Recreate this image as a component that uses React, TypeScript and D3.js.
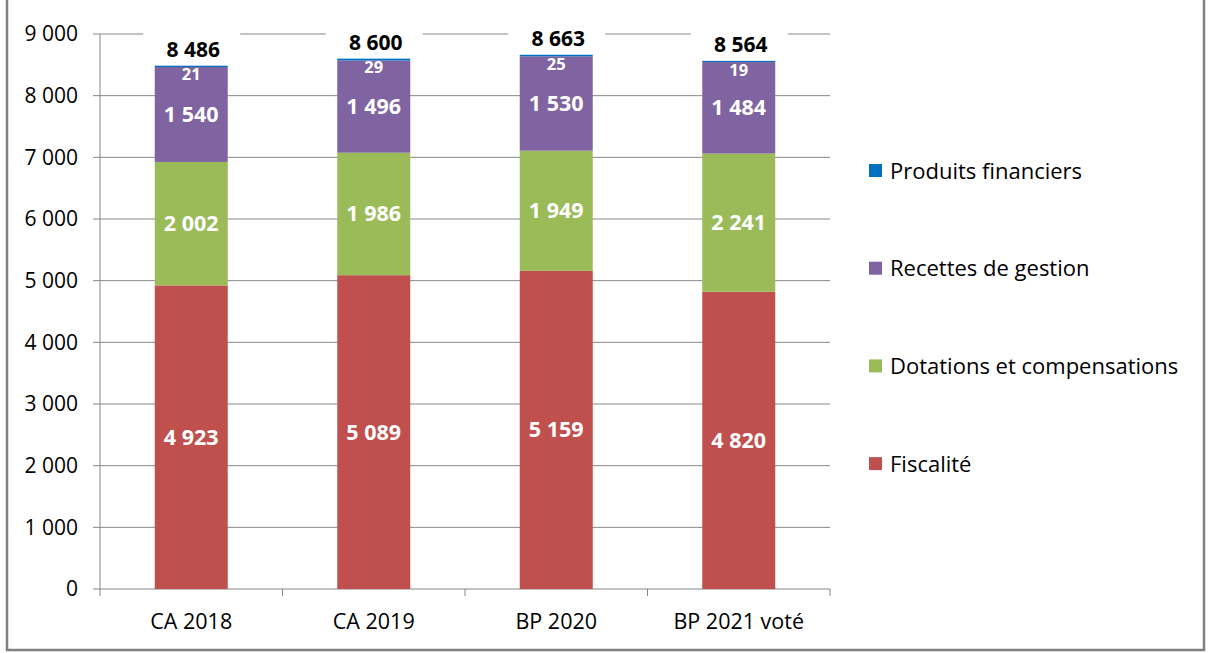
import React from "react";
import * as d3 from "d3";

const categories = ["CA 2018", "CA 2019", "BP 2020", "BP 2021 voté"];
const seriesNames = ["Fiscalité", "Dotations et compensations", "Recettes de gestion", "Produits financiers"];
const fiscalite = [4923, 5089, 5159, 4820];
const dotations = [2002, 1986, 1949, 2241];
const recettes = [1540, 1496, 1530, 1484];
const produits = [21, 29, 25, 19];
const totals = [8486, 8600, 8663, 8564];
const yTicks = [0, 1000, 2000, 3000, 4000, 5000, 6000, 7000, 8000, 9000];
const colors = ["#C0504D", "#9BBB59", "#8064A2", "#0070C0"];

const W = 1208;
const H = 653;
const FONT = "'Open Sans', sans-serif";

export default function App() {
  const x = d3.scaleBand<string>().domain(categories).range([100, 830]).paddingInner(0.6).paddingOuter(0.3);
  const band = d3.scaleBand<string>().domain(categories).range([100, 830]);
  const y = d3.scaleLinear().domain([0, 9000]).range([589, 34]);
  const fmt = (v: number) => d3.format(",")(v).replace(/,/g, " ");

  const rows = categories.map((c, i) => ({
    cat: c,
    fiscalite: fiscalite[i],
    dotations: dotations[i],
    recettes: recettes[i],
    produits: produits[i],
  }));
  const keys = ["fiscalite", "dotations", "recettes", "produits"];
  const stack = d3.stack<any>().keys(keys)(rows);

  return (
    <svg width={W} height={H} style={{ position: "fixed", left: 0, top: 0, background: "#fff" }}>
      <rect x={0} y={0} width={W} height={H} fill="#fff" />
      {/* gridlines */}
      {yTicks.map((t) => (
        <line key={"g" + t} x1={100} x2={830} y1={y(t)} y2={y(t)} stroke="#868686" strokeWidth={1} />
      ))}
      {/* y axis */}
      <line x1={100} x2={100} y1={y(9000)} y2={y(0)} stroke="#868686" strokeWidth={1} />
      {yTicks.map((t) => (
        <g key={"yt" + t}>
          <line x1={93} x2={100} y1={y(t)} y2={y(t)} stroke="#868686" />
          <text x={78} y={y(t)} dy="0.35em" textAnchor="end" fontFamily={FONT} fontSize={21} fill="#000">
            {fmt(t)}
          </text>
        </g>
      ))}
      {/* x axis ticks */}
      {[...categories.map((c) => band(c)!), 830].map((px, i) => (
        <line key={"xt" + i} x1={px} x2={px} y1={589} y2={596} stroke="#868686" />
      ))}
      {categories.map((c) => (
        <text key={"xl" + c} x={band(c)! + band.bandwidth() / 2} y={621} dy="0.35em" textAnchor="middle" fontFamily={FONT} fontSize={21.5} fill="#000">
          {c}
        </text>
      ))}
      {/* bars */}
      {stack.map((s, si) => (
        <g key={"s" + si} fill={colors[si]}>
          {s.map((d, i) => (
            <rect key={i} x={x(categories[i])} width={x.bandwidth()} y={y(d[1])} height={y(d[0]) - y(d[1])} />
          ))}
        </g>
      ))}
      {/* segment labels */}
      {stack.map((s, si) =>
        s.map((d, i) => {
          const cx = x(categories[i])! + x.bandwidth() / 2;
          const v = d[1] - d[0];
          if (si === 3) {
            return (
              <text key={"l" + si + i} x={cx} y={y(d[1]) + 9} dy="0.35em" textAnchor="middle" fontFamily={FONT} fontWeight="bold" fontSize={16.5} fill="#fff">
                {fmt(v)}
              </text>
            );
          }
          return (
            <text key={"l" + si + i} x={cx} y={(y(d[0]) + y(d[1])) / 2} dy="0.35em" textAnchor="middle" fontFamily={FONT} fontWeight="bold" fontSize={21.5} fill="#fff">
              {fmt(v)}
            </text>
          );
        })
      )}
      {/* total labels */}
      {totals.map((t, i) => {
        const cx = x(categories[i])! + x.bandwidth() / 2;
        const ly = Math.max(y(t) - 16, 39);
        return (
          <g key={"t" + i}>
            <rect x={cx - 48} y={ly - 19} width={97} height={30} fill="#fff" />
            <text x={cx + 2} y={ly} dy="0.35em" textAnchor="middle" fontFamily={FONT} fontWeight="bold" fontSize={21} fill="#000">
              {fmt(t)}
            </text>
          </g>
        );
      })}
      {/* legend */}
      {[3, 2, 1, 0].map((si, k) => (
        <g key={"lg" + si} transform={`translate(869, ${171 + k * 97.7})`}>
          <rect x={0} y={-7} width={13} height={13} fill={colors[si]} />
          <text x={21} y={0} dy="0.35em" fontFamily={FONT} fontSize={22} fill="#000">
            {seriesNames[si]}
          </text>
        </g>
      ))}
      {/* chart border */}
      <rect x={7} y={-10} width={1197} height={660} fill="none" stroke="#808080" strokeWidth={2.5} />
    </svg>
  );
}
